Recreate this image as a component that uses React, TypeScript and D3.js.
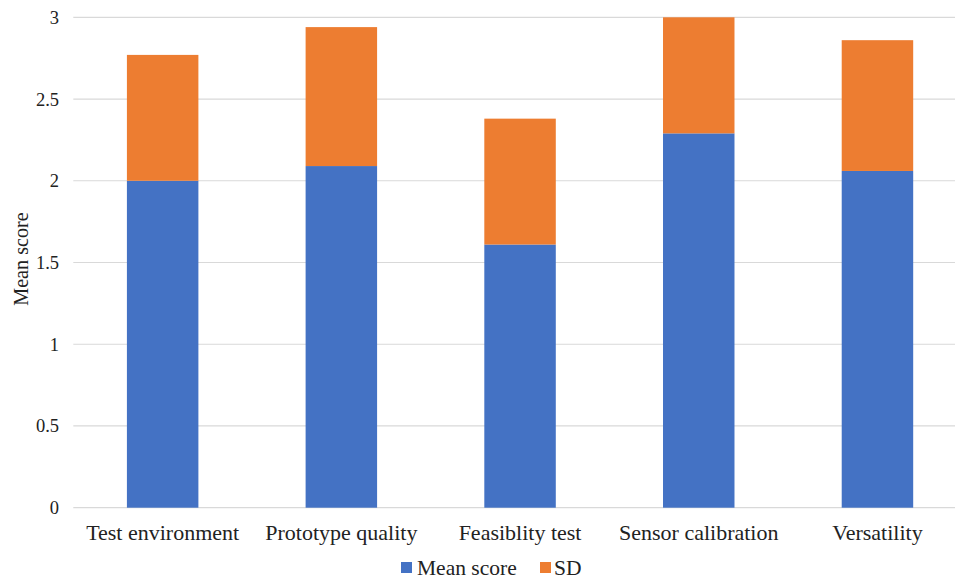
import React from "react";
import * as d3 from "d3";

const categories = ["Test environment", "Prototype quality", "Feasiblity test", "Sensor calibration", "Versatility"];
const meanScores = [2.0, 2.09, 1.61, 2.29, 2.06];
const sdValues = [0.77, 0.85, 0.77, 0.71, 0.80];
const yTicks = [0, 0.5, 1, 1.5, 2, 2.5, 3];
const seriesNames = ["Mean score", "SD"];
const seriesColors = ["#4472C4", "#ED7D31"];

const W = 955;
const H = 579;
const FONT = '"Liberation Serif"';
const TXT = { fontFamily: FONT };

export default function App() {
  const x = d3.scaleBand<string>().domain(categories).range([73.3, 966.8]).paddingInner(0.6).paddingOuter(0.3);
  const y = d3.scaleLinear().domain([0, 3]).range([507.7, 17.3]);

  const rows = categories.map((c, i) => ({ cat: c, mean: meanScores[i], sd: sdValues[i] }));
  const stack = d3.stack<any>().keys(["mean", "sd"])(rows);

  return (
    <svg width={W} height={H} style={{ position: "absolute", left: 0, top: 0, background: "#fff" }}>
      {yTicks.map((t) => (
        <g key={t}>
          <line x1={73.3} x2={W} y1={y(t)} y2={y(t)} stroke="#d9d9d9" strokeWidth={1.2} />
          <text x={59} y={y(t)} dy="0.35em" textAnchor="end" fontSize={18.5} fill="#222" style={TXT}>
            {t}
          </text>
        </g>
      ))}
      {stack.map((layer, si) => (
        <g key={si} fill={seriesColors[si]}>
          {layer.map((d, i) => (
            <rect
              key={i}
              x={x(categories[i])}
              width={x.bandwidth()}
              y={y(d[1])}
              height={y(d[0]) - y(d[1])}
            />
          ))}
        </g>
      ))}
      {categories.map((c) => (
        <text key={c} x={(x(c) as number) + x.bandwidth() / 2} y={539.5} textAnchor="middle" fontSize={22} fill="#222" style={TXT}>
          {c}
        </text>
      ))}
      <text transform="translate(28,259) rotate(-90)" textAnchor="middle" fontSize={20.2} fill="#222" style={TXT}>
        Mean score
      </text>
      <g>
        <rect x={401} y={562} width={11} height={11} fill={seriesColors[0]} />
        <text x={417} y={575} fontSize={21.5} fill="#222" style={TXT}>{seriesNames[0]}</text>
        <rect x={540} y={562} width={11} height={11} fill={seriesColors[1]} />
        <text x={554} y={575} fontSize={21.5} fill="#222" style={TXT}>{seriesNames[1]}</text>
      </g>
    </svg>
  );
}
